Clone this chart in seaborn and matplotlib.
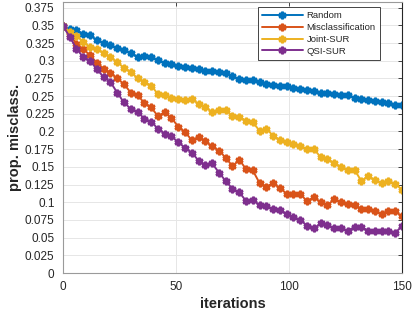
import numpy as np
import pandas as pd
import matplotlib
matplotlib.use("Agg")
import matplotlib.pyplot as plt
import seaborn as sns

iterations = list(range(0, 151, 3))

random_vals = [0.349, 0.345, 0.343, 0.338, 0.336, 0.329, 0.325, 0.322, 0.318, 0.315,
               0.311, 0.305, 0.307, 0.305, 0.301, 0.297, 0.295, 0.293, 0.291, 0.290,
               0.289, 0.286, 0.285, 0.284, 0.282, 0.278, 0.274, 0.273, 0.273, 0.270,
               0.267, 0.266, 0.264, 0.264, 0.262, 0.260, 0.258, 0.257, 0.255, 0.254,
               0.253, 0.252, 0.251, 0.248, 0.246, 0.244, 0.243, 0.241, 0.240, 0.238,
               0.238]

misclass_vals = [0.349, 0.337, 0.324, 0.316, 0.308, 0.297, 0.289, 0.283, 0.275, 0.267,
                 0.255, 0.252, 0.240, 0.234, 0.222, 0.227, 0.219, 0.207, 0.199, 0.188,
                 0.192, 0.186, 0.179, 0.173, 0.163, 0.151, 0.160, 0.147, 0.145, 0.127,
                 0.122, 0.127, 0.120, 0.112, 0.112, 0.111, 0.102, 0.107, 0.100, 0.096,
                 0.104, 0.100, 0.097, 0.096, 0.090, 0.090, 0.087, 0.084, 0.088, 0.087,
                 0.080]

joint_vals = [0.349, 0.341, 0.335, 0.327, 0.319, 0.316, 0.311, 0.305, 0.298, 0.290,
              0.284, 0.275, 0.270, 0.265, 0.253, 0.252, 0.248, 0.246, 0.244, 0.246,
              0.239, 0.235, 0.227, 0.231, 0.230, 0.222, 0.221, 0.215, 0.213, 0.201,
              0.204, 0.194, 0.188, 0.185, 0.182, 0.179, 0.175, 0.175, 0.164, 0.161,
              0.155, 0.150, 0.146, 0.146, 0.130, 0.137, 0.131, 0.127, 0.130, 0.126,
              0.118]

qsi_vals = [0.349, 0.334, 0.317, 0.305, 0.300, 0.288, 0.277, 0.270, 0.255, 0.241,
            0.232, 0.228, 0.218, 0.214, 0.204, 0.197, 0.193, 0.185, 0.177, 0.170,
            0.159, 0.152, 0.155, 0.142, 0.130, 0.119, 0.114, 0.102, 0.103, 0.096,
            0.095, 0.090, 0.089, 0.083, 0.079, 0.075, 0.067, 0.063, 0.070, 0.068,
            0.063, 0.063, 0.060, 0.065, 0.065, 0.060, 0.059, 0.059, 0.059, 0.057,
            0.066]

series_names = ["Random", "Misclassification", "Joint-SUR", "QSI-SUR"]
series_vals = [random_vals, misclass_vals, joint_vals, qsi_vals]
colors = ["#0072BD", "#D95319", "#EDB120", "#7E2F8E"]

yticks = [0, 0.025, 0.05, 0.075, 0.1, 0.125, 0.15, 0.175, 0.2, 0.225, 0.25,
          0.275, 0.3, 0.325, 0.35, 0.375]
ytick_labels = ["0", "0.025", "0.05", "0.075", "0.1", "0.125", "0.15", "0.175",
                "0.2", "0.225", "0.25", "0.275", "0.3", "0.325", "0.35", "0.375"]
xticks = [0, 50, 100, 150]

sns.set_style("white")
plt.rcParams['font.family'] = ['Liberation Sans', 'DejaVu Sans']

df = pd.DataFrame({
    "iterations": iterations * 4,
    "value": sum(series_vals, []),
    "method": sum([[n] * len(iterations) for n in series_names], []),
})

fig = plt.figure(figsize=(4.14, 3.12), dpi=100)
ax = fig.add_axes([0.152, 0.125, 0.819, 0.869])

star = (6, 1, 0)
for name, col in zip(series_names, colors):
    sub = df[df["method"] == name]
    sns.lineplot(data=sub, x="iterations", y="value", ax=ax, color=col,
                 marker=star, markersize=5.2, markeredgewidth=1.8,
                 markeredgecolor=col, linewidth=1.4, label=name)

ax.set_xlim(0, 150)
ax.set_ylim(0, 0.3832)
ax.set_xticks(xticks)
ax.set_xticklabels([str(t) for t in xticks])
ax.set_yticks(yticks)
ax.set_yticklabels(ytick_labels)
ax.tick_params(direction="in", length=3, width=0.6, labelsize=8.5, colors="#262626",
               top=True, right=True)
ax.tick_params(axis="y", pad=6)
ax.tick_params(axis="x", pad=5.5)
ax.grid(True, color="#e6e6e6", linewidth=0.7)
ax.set_axisbelow(True)
for side in ["left", "bottom", "top"]:
    ax.spines[side].set_color("#9a9a9a")
    ax.spines[side].set_linewidth(0.8)
ax.spines["right"].set_color("#262626")
ax.spines["right"].set_linewidth(0.8)

ax.set_xlabel("iterations", fontsize=10.5, fontweight="bold", labelpad=3)
ax.set_ylabel("prop. misclass.", fontsize=10.5, fontweight="bold", labelpad=2)

leg = ax.legend(loc="upper right", bbox_to_anchor=(0.935, 0.981), fontsize=6.8,
                frameon=True, fancybox=False, edgecolor="#262626",
                handlelength=4.3, borderpad=0.45, labelspacing=0.3,
                handletextpad=0.4, borderaxespad=0.0)
leg.get_frame().set_linewidth(0.6)
leg.get_frame().set_alpha(1)

fig.savefig("out.png", dpi=100)
